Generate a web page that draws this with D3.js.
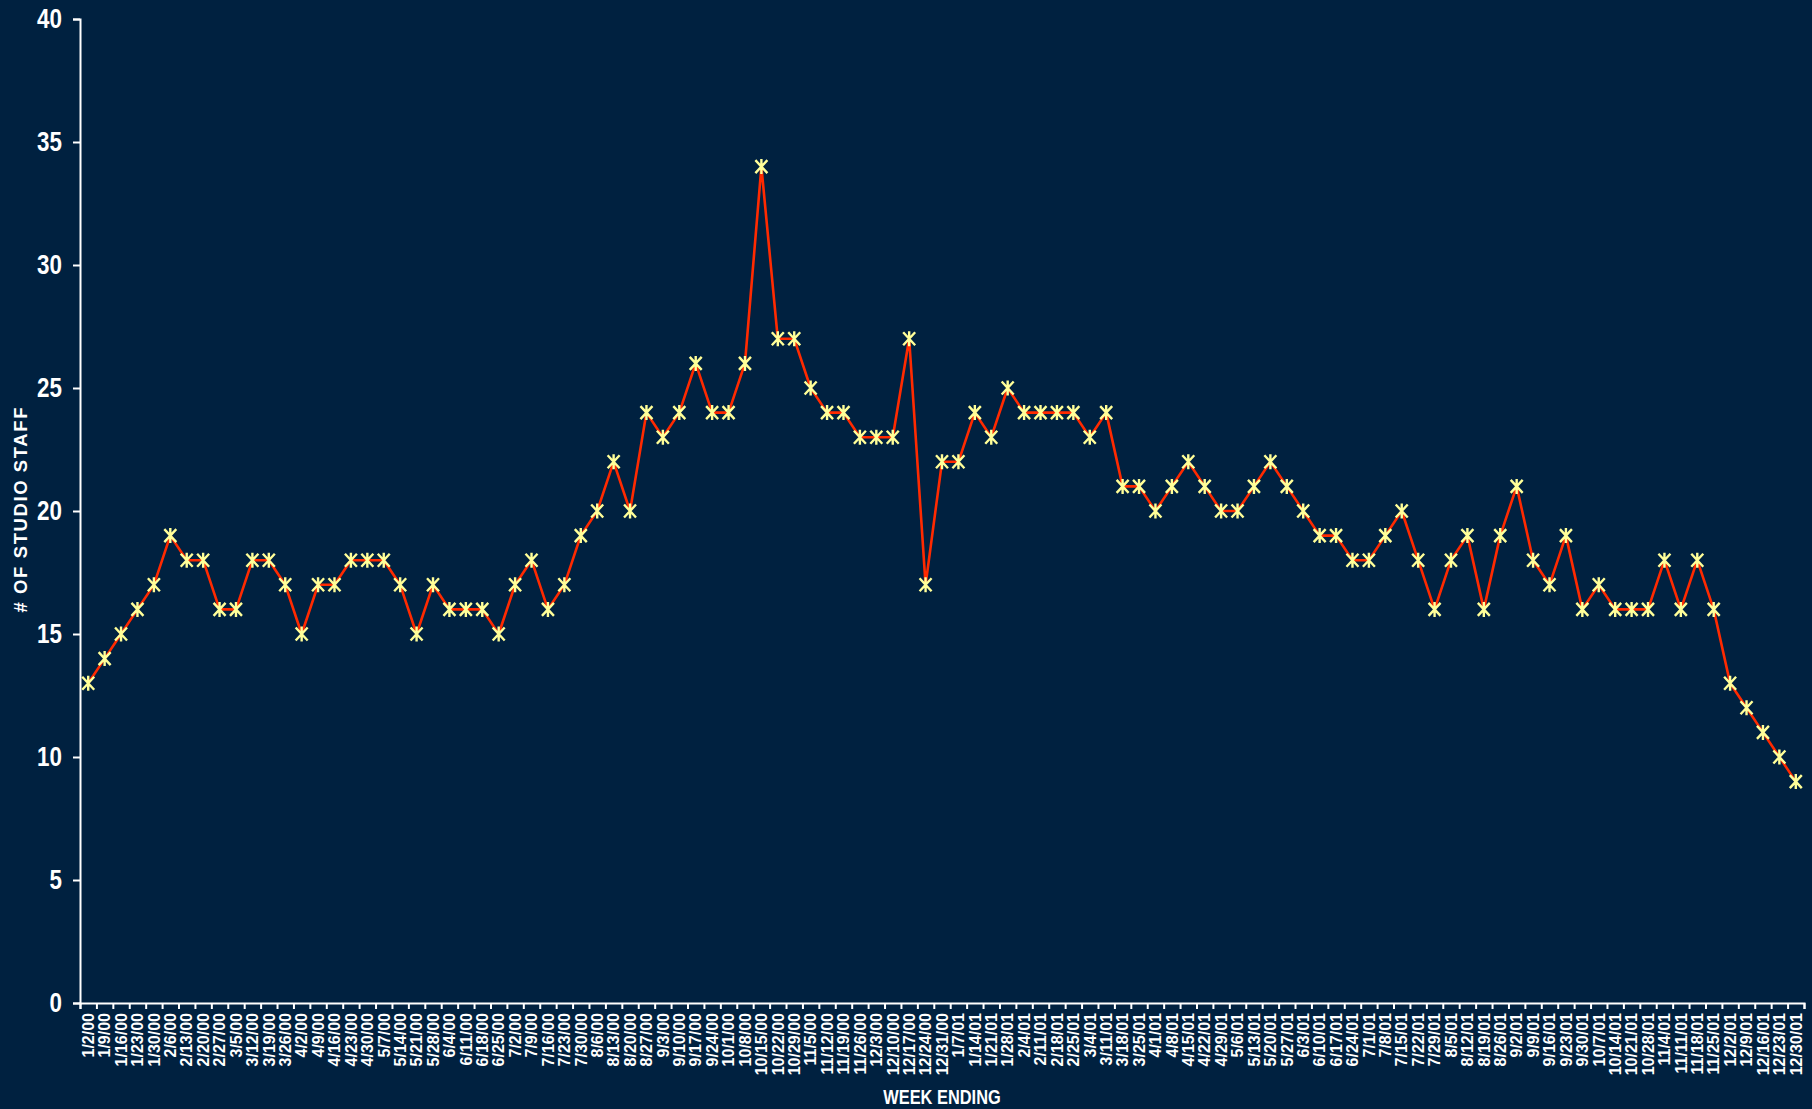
<!DOCTYPE html>
<html>
<head>
<meta charset="utf-8">
<script src="https://cdn.jsdelivr.net/npm/d3@7"></script>
<style>
  html, body { margin: 0; padding: 0; background: #002140; }
  svg { display: block; }
</style>
</head>
<body>
<div id="chart"></div>
<script>
// week ending dates
const weeks = [
  "1/2/00","1/9/00","1/16/00","1/23/00","1/30/00","2/6/00","2/13/00","2/20/00","2/27/00","3/5/00",
  "3/12/00","3/19/00","3/26/00","4/2/00","4/9/00","4/16/00","4/23/00","4/30/00","5/7/00","5/14/00",
  "5/21/00","5/28/00","6/4/00","6/11/00","6/18/00","6/25/00","7/2/00","7/9/00","7/16/00","7/23/00",
  "7/30/00","8/6/00","8/13/00","8/20/00","8/27/00","9/3/00","9/10/00","9/17/00","9/24/00","10/1/00",
  "10/8/00","10/15/00","10/22/00","10/29/00","11/5/00","11/12/00","11/19/00","11/26/00","12/3/00","12/10/00",
  "12/17/00","12/24/00","12/31/00","1/7/01","1/14/01","1/21/01","1/28/01","2/4/01","2/11/01","2/18/01",
  "2/25/01","3/4/01","3/11/01","3/18/01","3/25/01","4/1/01","4/8/01","4/15/01","4/22/01","4/29/01",
  "5/6/01","5/13/01","5/20/01","5/27/01","6/3/01","6/10/01","6/17/01","6/24/01","7/1/01","7/8/01",
  "7/15/01","7/22/01","7/29/01","8/5/01","8/12/01","8/19/01","8/26/01","9/2/01","9/9/01","9/16/01",
  "9/23/01","9/30/01","10/7/01","10/14/01","10/21/01","10/28/01","11/4/01","11/11/01","11/18/01","11/25/01",
  "12/2/01","12/9/01","12/16/01","12/23/01","12/30/01"
];

// # of studio staff per week
const staff = [
  13,14,15,16,17,19,18,18,16,16,
  18,18,17,15,17,17,18,18,18,17,
  15,17,16,16,16,15,17,18,16,17,
  19,20,22,20,24,23,24,26,24,24,
  26,34,27,27,25,24,24,23,23,23,
  27,17,22,22,24,23,25,24,24,24,
  24,23,24,21,21,20,21,22,21,20,
  20,21,22,21,20,19,19,18,18,19,
  20,18,16,18,19,16,19,21,18,17,
  19,16,17,16,16,16,18,16,18,16,
  13,12,11,10,9
];

const yTicks = [0, 5, 10, 15, 20, 25, 30, 35, 40];

const width = 1812, height = 1109;
const plotLeft = 80, plotRight = 1804, plotTop = 19, plotBottom = 1003;

const arial = '"Liberation Sans", Arial, sans-serif';
const squeeze = 0.8; // narrow look of the axis numbers

const svg = d3.select('#chart').append('svg')
  .attr('width', width)
  .attr('height', height);

svg.append('rect')
  .attr('width', width)
  .attr('height', height)
  .attr('fill', '#002140');

const x = d3.scaleBand()
  .domain(weeks)
  .range([plotLeft, plotRight])
  .padding(0);

const xEdges = d3.scaleLinear()
  .domain([0, weeks.length])
  .range([plotLeft, plotRight]);

const y = d3.scaleLinear()
  .domain([0, 40])
  .range([plotBottom, plotTop]);

// y axis
svg.append('g')
  .attr('transform', `translate(${plotLeft},0)`)
  .call(d3.axisLeft(y).tickValues(yTicks).tickSize(7).tickPadding(11))
  .call(g => g.select('.domain').attr('stroke', '#fff').attr('stroke-width', 2))
  .call(g => g.selectAll('.tick line').attr('stroke', '#fff').attr('stroke-width', 2))
  .call(g => g.selectAll('.tick text')
    .attr('fill', '#fff')
    .attr('x', -18 / squeeze)
    .attr('transform', `scale(${squeeze},1)`)
    .style('font-family', arial)
    .style('font-weight', 'bold')
    .style('font-size', '28px'));

// x axis: tick marks between categories
svg.append('g')
  .attr('transform', `translate(0,${plotBottom})`)
  .call(d3.axisBottom(xEdges).tickValues(d3.range(weeks.length + 1)).tickSize(6).tickFormat(''))
  .call(g => g.select('.domain').attr('stroke', '#fff').attr('stroke-width', 2))
  .call(g => g.selectAll('.tick line').attr('stroke', '#fff').attr('stroke-width', 2));

// x axis labels
svg.append('g')
  .attr('transform', `translate(0,${plotBottom})`)
  .call(d3.axisBottom(x).tickSize(0).tickPadding(0))
  .call(g => g.select('.domain').remove())
  .call(g => g.selectAll('.tick text')
    .attr('fill', '#fff')
    .attr('transform', 'rotate(-90)')
    .attr('text-anchor', 'end')
    .attr('x', -10)
    .attr('y', 0)
    .attr('dy', '0.36em')
    .style('font-family', arial)
    .style('font-weight', 'bold')
    .style('font-size', '16px'));

// line
const line = d3.line()
  .x((d, i) => x(weeks[i]) + x.bandwidth() / 2)
  .y(d => y(d));

svg.append('path')
  .datum(staff)
  .attr('fill', 'none')
  .attr('stroke', '#ff2a00')
  .attr('stroke-width', 2.6)
  .attr('stroke-linejoin', 'round')
  .attr('d', line);

// star markers
svg.append('g')
  .selectAll('path')
  .data(staff)
  .join('path')
    .attr('transform', (d, i) => `translate(${x(weeks[i]) + x.bandwidth() / 2},${y(d)})`)
    .attr('d', 'M-6,-6.5L6,6.5M6,-6.5L-6,6.5M0,-7.5L0,7.5')
    .attr('fill', 'none')
    .attr('stroke', '#ffff99')
    .attr('stroke-width', 2.4);

// axis titles
svg.append('text')
  .attr('transform', 'translate(27,510) rotate(-90)')
  .attr('text-anchor', 'middle')
  .attr('fill', '#fff')
  .attr('textLength', 205)
  .attr('lengthAdjust', 'spacing')
  .style('font-family', arial)
  .style('font-weight', 'bold')
  .style('font-size', '18.5px')
  .text('# OF STUDIO STAFF');

svg.append('text')
  .attr('transform', `translate(942,1104) scale(${squeeze + 0.02},1)`)
  .attr('text-anchor', 'middle')
  .attr('fill', '#fff')
  .style('font-family', arial)
  .style('font-weight', 'bold')
  .style('font-size', '20px')
  .text('WEEK ENDING');
</script>
</body>
</html>
